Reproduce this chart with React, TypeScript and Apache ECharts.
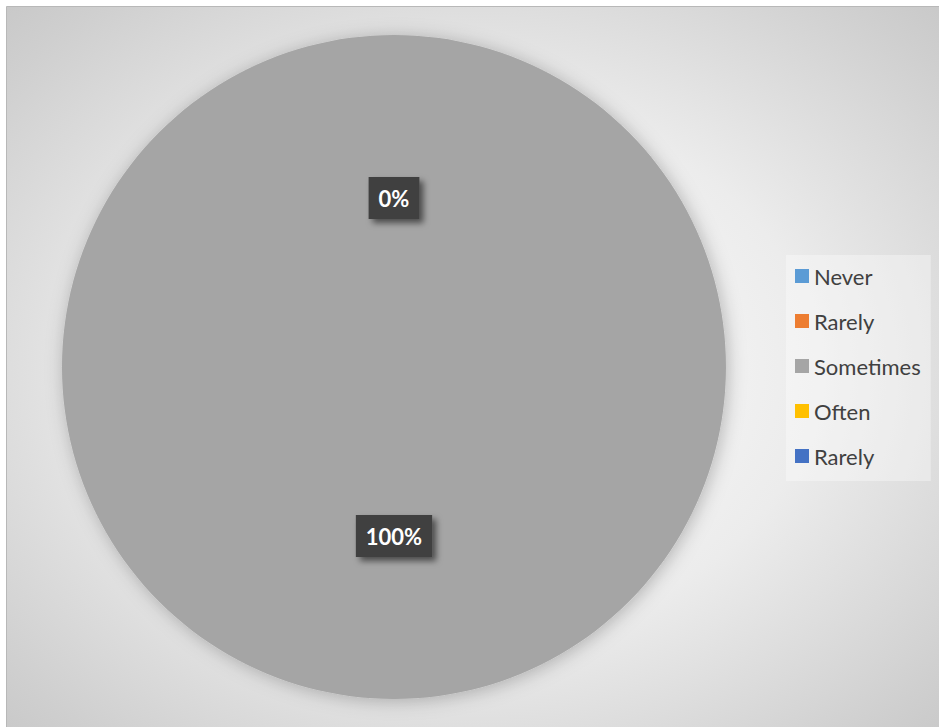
import React, { useEffect, useRef } from "react";
import * as echarts from "echarts";

const categories = ["Never", "Rarely", "Sometimes", "Often", "Rarely "];
const values = [0, 0, 100, 0, 0];
const colors = ["#5B9BD5", "#ED7D31", "#A5A5A5", "#FFC000", "#4472C4"];

export default function App() {
  const ref = useRef<HTMLDivElement>(null);
  useEffect(() => {
    if (!ref.current) return;
    const chart = echarts.init(ref.current, null, { renderer: "svg" });
    chart.setOption({
      animation: false,
      graphic: [
        {
          type: "rect",
          z: -10,
          silent: true,
          shape: { x: 6.5, y: 6.5, width: 940, height: 730 },
          style: {
            fill: new echarts.graphic.RadialGradient(0.5, 0.5, 0.8, [
              { offset: 0, color: "#ffffff" },
              { offset: 0.45, color: "#ececec" },
              { offset: 0.8, color: "#cfcfcf" },
              { offset: 1, color: "#c0c0c0" },
            ]),
            stroke: "#b8b8b8",
            lineWidth: 1,
          },
        },
      ],
      legend: {
        orient: "vertical",
        left: 786,
        top: 255,
        padding: [10, 10, 14, 9],
        backgroundColor: "rgba(255,255,255,0.35)",
        itemWidth: 14,
        itemHeight: 14,
        itemGap: 23,
        icon: "rect",
        data: categories,
        formatter: (n: string) => n.trim(),
        textStyle: { fontFamily: "Lato", fontSize: 22, color: "#404040" },
      },
      series: [
        {
          type: "pie",
          center: [394, 367],
          radius: [0, 332],
          startAngle: 90,
          clockwise: true,
          color: colors,
          itemStyle: {
            shadowBlur: 18,
            shadowColor: "rgba(0,0,0,0.25)",
            shadowOffsetX: 2,
            shadowOffsetY: 2,
          },
          emphasis: { disabled: true },
          label: {
            show: true,
            position: "inside",
            formatter: "{d}%",
            fontFamily: "Lato",
            fontWeight: "bold",
            fontSize: 22,
            color: "#ffffff",
            backgroundColor: "#404040",
            padding: [10, 10, 10, 10],
            shadowBlur: 6,
            shadowColor: "rgba(0,0,0,0.55)",
            shadowOffsetX: 4,
            shadowOffsetY: 4,
          },
          labelLine: { show: false },
          data: categories.map((c, i) => ({ name: c, value: values[i] })),
        },
      ],
    });
    return () => chart.dispose();
  }, []);
  return (
    <div
      ref={ref}
      style={{ position: "absolute", left: 0, top: 0, width: 939, height: 727 }}
    />
  );
}
